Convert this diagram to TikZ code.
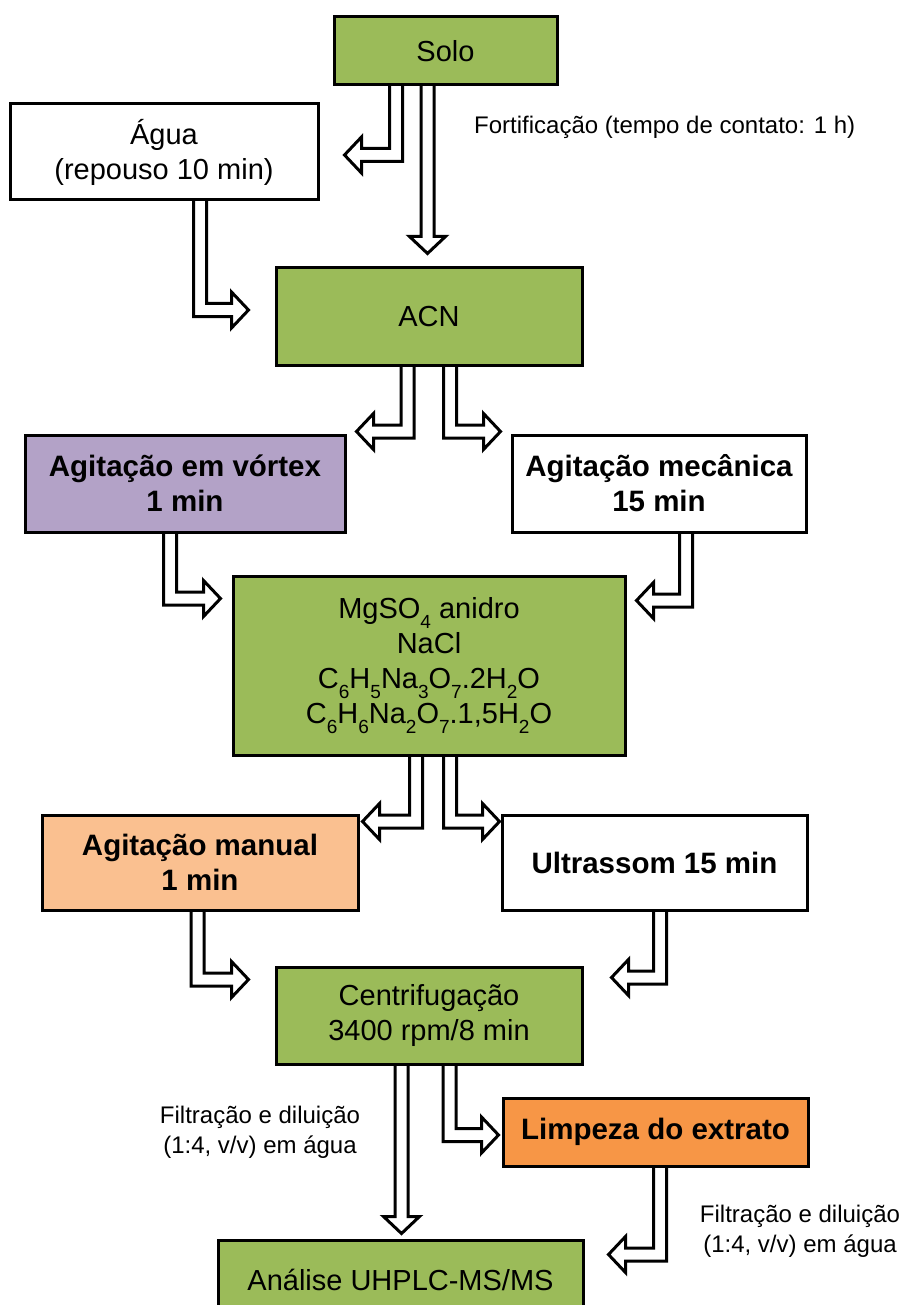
\documentclass[tikz,border=0pt]{standalone}
\usepackage{fontspec}
\setmainfont{Liberation Sans}
\usetikzlibrary{calc}
\pgfdeclarelayer{paper}
\pgfdeclarelayer{background}
\pgfsetlayers{paper,background,main}

\definecolor{boxgreen}{HTML}{9BBB59}
\definecolor{boxpurple}{HTML}{B3A2C7}
\definecolor{boxpeach}{HTML}{FAC090}
\definecolor{boxorange}{HTML}{F79646}

% chemical subscript
\newcommand\chs[1]{\raisebox{-0.33em}{\fontsize{19}{19}\selectfont #1}}

% block arrow geometry
\newcommand\arrhw{6.5pt}  % half shaft width
\newcommand\arrhh{18pt}   % half head width
\newcommand\arrhl{17pt}   % head length
\newcommand\arrin{8pt}    % start hidden under the box

\tikzset{
  stage/.style={draw=black, line width=3pt, rectangle, align=center, inner sep=0pt,
    font=\fontsize{29}{35}\selectfont},
  boldstage/.style={stage, font=\fontsize{29.5}{35}\selectfont\bfseries},
  note/.style={align=center, inner sep=0pt, font=\fontsize{24}{30}\selectfont},
  blockarrow/.style={draw=black, fill=white, line width=3pt, line join=miter},
}

% straight block arrow pointing down: #1 start, #2 tip
\newcommand\arrowDown[2]{%
  \filldraw[blockarrow] let \p1=(#1), \p2=(#2) in
    (\x1-\arrhw,\y1+\arrin) -- (\x1-\arrhw,\y2+\arrhl) -- (\x1-\arrhh,\y2+\arrhl) -- (\x1,\y2)
    -- (\x1+\arrhh,\y2+\arrhl) -- (\x1+\arrhw,\y2+\arrhl) -- (\x1+\arrhw,\y1+\arrin) -- cycle;}
% block arrow going down, then right: #1 start, #2 tip
\newcommand\arrowDR[2]{%
  \filldraw[blockarrow] let \p1=(#1), \p2=(#2) in
    (\x1-\arrhw,\y1+\arrin) -- (\x1-\arrhw,\y2-\arrhw) -- (\x2-\arrhl,\y2-\arrhw)
    -- (\x2-\arrhl,\y2-\arrhh) -- (\x2,\y2) -- (\x2-\arrhl,\y2+\arrhh) -- (\x2-\arrhl,\y2+\arrhw)
    -- (\x1+\arrhw,\y2+\arrhw) -- (\x1+\arrhw,\y1+\arrin) -- cycle;}
% block arrow going down, then left: #1 start, #2 tip
\newcommand\arrowDL[2]{%
  \filldraw[blockarrow] let \p1=(#1), \p2=(#2) in
    (\x1+\arrhw,\y1+\arrin) -- (\x1+\arrhw,\y2-\arrhw) -- (\x2+\arrhl,\y2-\arrhw)
    -- (\x2+\arrhl,\y2-\arrhh) -- (\x2,\y2) -- (\x2+\arrhl,\y2+\arrhh) -- (\x2+\arrhl,\y2+\arrhw)
    -- (\x1-\arrhw,\y2+\arrhw) -- (\x1-\arrhw,\y1+\arrin) -- cycle;}

\begin{document}
\begin{tikzpicture}[x=1pt, y=-1pt]
\useasboundingbox (0,0) rectangle (905,1305);
\clip (0,0) rectangle (905,1305);
\begin{pgfonlayer}{paper}
  \fill[white] (0,0) rectangle (905,1305);
\end{pgfonlayer}

% stages
\node[stage, fill=boxgreen, minimum width=223pt, minimum height=68pt] (solo) at (445.5,51) {Solo};
\node[stage, fill=white, minimum width=308pt, minimum height=96pt] (agua) at (164,152) {Água\\(repouso 10 min)};
\node[stage, fill=boxgreen, minimum width=306pt, minimum height=97pt] (acn) at (429,316.5) {ACN};
\node[boldstage, fill=boxpurple, minimum width=320pt, minimum height=97pt] (vortex) at (185,483.5) {Agitação em vórtex\\1 min};
\node[boldstage, fill=white, minimum width=294pt, minimum height=97pt] (mecanica) at (659,483.5) {Agitação mecânica\\15 min};
\node[stage, fill=boxgreen, minimum width=392pt, minimum height=179pt] (sais) at (429,665.5)
  {MgSO\chs{4} anidro\\NaCl\\C\chs{6}H\chs{5}Na\chs{3}O\chs{7}.2H\chs{2}O\\C\chs{6}H\chs{6}Na\chs{2}O\chs{7}.1,5H\chs{2}O};
\node[boldstage, fill=boxpeach, minimum width=316pt, minimum height=95pt] (manual) at (200,862.5) {Agitação manual\\1 min};
\node[boldstage, fill=white, minimum width=305pt, minimum height=95pt] (ultra) at (654.5,862.5) {Ultrassom 15 min};
\node[stage, fill=boxgreen, minimum width=306pt, minimum height=97pt] (centrif) at (429,1015.5) {Centrifugação\\3400 rpm/8 min};
\node[boldstage, fill=boxorange, minimum width=305pt, minimum height=68pt] (limpeza) at (655.5,1132) {Limpeza do extrato};
\node[stage, fill=boxgreen, minimum width=365pt, minimum height=80pt] (analise) at (400.5,1280) {Análise UHPLC-MS/MS};

% labels
\node[note, anchor=west] (fort) at (474,127) {Fortificação (tempo de contato: 1 h)};
\node[note] (filtA) at (260,1132) {Filtração e diluição\\(1:4, v/v) em água};
\node[note] (filtB) at (800,1231) {Filtração e diluição\\(1:4, v/v) em água};

% arrow ends
\coordinate (s1) at ($(solo.south)+(-49.5,0)$);   \coordinate (t1) at ($(agua.east)+(25,3)$);
\coordinate (s2) at ($(solo.south)+(-18,0)$);     \coordinate (t2) at ($(acn.north)+(0,-13)$);
\coordinate (s3) at ($(agua.south)+(36,0)$);      \coordinate (t3) at ($(acn.west)+(-26,-6.5)$);
\coordinate (s4) at ($(acn.south)+(-21.5,0)$);    \coordinate (t4) at ($(vortex.north east)+(10,-2)$);
\coordinate (s5) at ($(acn.south)+(21,0)$);       \coordinate (t5) at ($(mecanica.north west)+(-10,-2)$);
\coordinate (s6) at ($(vortex.south)+(-15,0)$);   \coordinate (t6) at ($(sais.north west)+(-11,24)$);
\coordinate (s7) at ($(mecanica.south)+(27,0)$);  \coordinate (t7) at ($(sais.north east)+(10,26)$);
\coordinate (s8) at ($(sais.south)+(-13,0)$);     \coordinate (t8) at ($(manual.north east)+(3,8)$);
\coordinate (s9) at ($(sais.south)+(21,0)$);      \coordinate (t9) at ($(ultra.north west)+(-1,8)$);
\coordinate (s10) at ($(manual.south)+(-2.5,0)$); \coordinate (t10) at ($(centrif.north west)+(-26,14)$);
\coordinate (s11) at ($(ultra.south)+(5.5,0)$);   \coordinate (t11) at ($(centrif.north east)+(28,12)$);
\coordinate (s12) at ($(centrif.south)+(-27.5,0)$); \coordinate (t12) at ($(analise.north)+(0,-5)$);
\coordinate (s13) at ($(centrif.south)+(20.5,0)$);  \coordinate (t13) at ($(limpeza.west)+(-3,3)$);
\coordinate (s14) at ($(limpeza.south)+(4.5,0)$);   \coordinate (t14) at ($(analise.north east)+(24,16)$);

\begin{pgfonlayer}{background}
  \arrowDL{s1}{t1}
  \arrowDown{s2}{t2}
  \arrowDR{s3}{t3}
  \arrowDL{s4}{t4}
  \arrowDR{s5}{t5}
  \arrowDR{s6}{t6}
  \arrowDL{s7}{t7}
  \arrowDL{s8}{t8}
  \arrowDR{s9}{t9}
  \arrowDR{s10}{t10}
  \arrowDL{s11}{t11}
  \arrowDown{s12}{t12}
  \arrowDR{s13}{t13}
  \arrowDL{s14}{t14}
\end{pgfonlayer}
\end{tikzpicture}
\end{document}
